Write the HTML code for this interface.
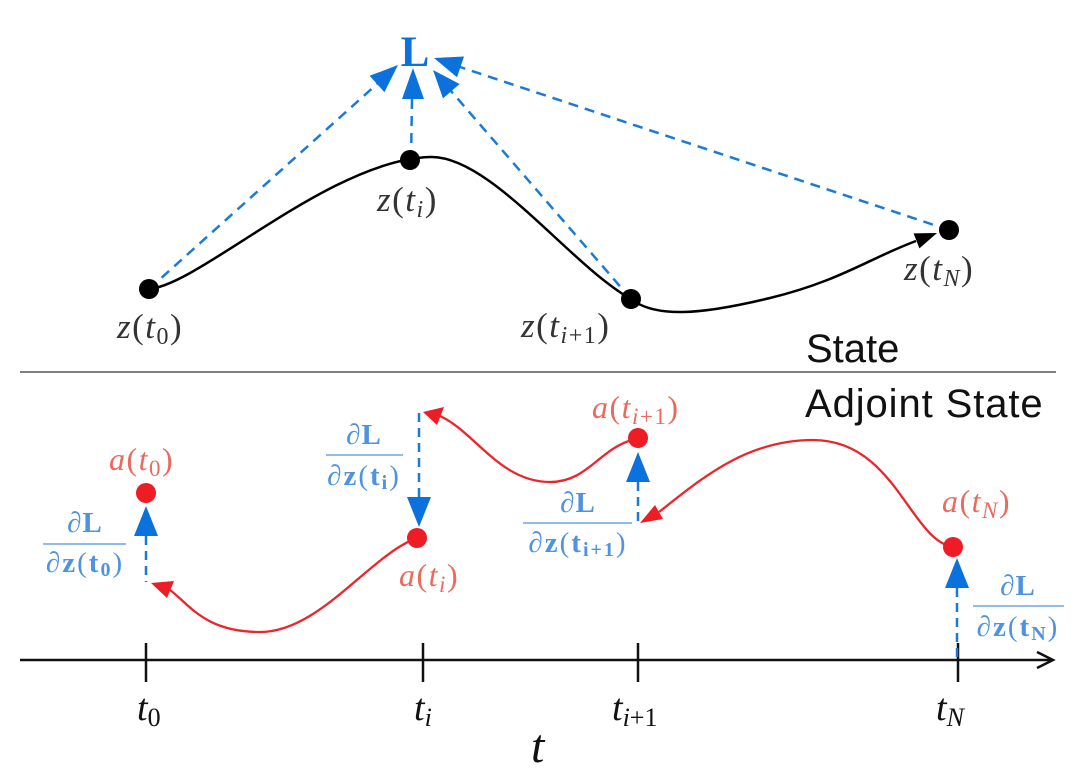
<!DOCTYPE html>
<html>
<head>
<meta charset="utf-8">
<style>
  html, body { margin:0; padding:0; background:#fff; }
  svg { display:block; }
  .m { font-family:"Liberation Serif", serif; }
  .it { font-style:italic; }
  .bf { font-weight:bold; }
  .sans { font-family:"Liberation Sans", sans-serif; }
</style>
</head>
<body>
<svg width="1080" height="780" viewBox="0 0 1080 780" xmlns="http://www.w3.org/2000/svg">
  <rect width="1080" height="780" fill="#fff"/>

  <!-- ===== TOP: State ===== -->
  <g stroke="#1a7bd6" stroke-width="2.5" stroke-dasharray="10 7" fill="none">
    <line x1="149" y1="289" x2="377" y2="84"/>
    <line x1="411" y1="160" x2="412" y2="99"/>
    <line x1="631" y1="299" x2="451" y2="91"/>
    <line x1="949" y1="230" x2="460" y2="67"/>
  </g>
  <g fill="#0b72dd">
    <polygon points="398,65 369.6,75.8 384.4,92.2"/>
    <polygon points="413,68 402,99 424,99"/>
    <polygon points="433,70 443,98.4 459.6,84"/>
    <polygon points="434,58 464,56.5 457,77.3"/>
  </g>
  <text x="415" y="66" text-anchor="middle" class="m bf" font-size="43" fill="#0b72dd">L</text>

  <!-- black trajectory -->
  <path d="M149,289 C200,285 330,160 430,157 C490,155 570,265 631,299 C655,318 700,315 770,298 S870,258 916,241"
        stroke="#000" stroke-width="2.5" fill="none"/>
  <polygon points="937,233 919.4,248.4 913.6,233.4" fill="#000"/>

  <g fill="#000">
    <circle cx="149" cy="289" r="10"/>
    <circle cx="410" cy="160" r="10"/>
    <circle cx="631" cy="299" r="10"/>
    <circle cx="949" cy="230" r="10"/>
  </g>

  <!-- z labels -->
  <g class="m" font-size="35" fill="#333">
    <text x="117" y="338" letter-spacing="1.5"><tspan class="it">z</tspan>(<tspan class="it">t</tspan><tspan font-size="24" dy="6">0</tspan><tspan dy="-6">)</tspan></text>
    <text x="377" y="211" letter-spacing="1.5"><tspan class="it">z</tspan>(<tspan class="it">t</tspan><tspan font-size="24" dy="6" class="it">i</tspan><tspan dy="-6">)</tspan></text>
    <text x="521" y="337" letter-spacing="1.5"><tspan class="it">z</tspan>(<tspan class="it">t</tspan><tspan font-size="24" dy="6"><tspan class="it">i</tspan>+1</tspan><tspan dy="-6">)</tspan></text>
    <text x="904" y="280" letter-spacing="1.5"><tspan class="it">z</tspan>(<tspan class="it">t</tspan><tspan font-size="24" dy="6" class="it">N</tspan><tspan dy="-6">)</tspan></text>
  </g>

  <text x="806" y="362" class="sans" font-size="40" fill="#111">State</text>
  <line x1="20" y1="372" x2="1056" y2="372" stroke="#808080" stroke-width="2"/>
  <text x="805" y="417" class="sans" font-size="40" fill="#111" letter-spacing="0.9">Adjoint State</text>

  <!-- ===== BOTTOM: Adjoint ===== -->
  <line x1="20" y1="660" x2="1052" y2="660" stroke="#111" stroke-width="2.5"/>
  <polyline points="1037,652 1053,660 1037,668" stroke="#111" stroke-width="2.5" fill="none"/>
  <g stroke="#111" stroke-width="2.5">
    <line x1="146" y1="643" x2="146" y2="682"/>
    <line x1="423" y1="643" x2="423" y2="682"/>
    <line x1="638" y1="643" x2="638" y2="682"/>
    <line x1="958" y1="643" x2="958" y2="682"/>
  </g>

  <!-- red curves -->
  <g stroke="#e8262b" stroke-width="2.3" fill="none">
    <path d="M417,538 C370,555 320,632 260,632 C205,632 190,605 170,590"/>
    <path d="M640,438 C600,445 590,482 550,482 C500,482 475,432 440,416"/>
    <path d="M953,547 C910,540 895,440 813,440 C745,440 700,480 659,512"/>
  </g>
  <g fill="#ee1c24">
    <polygon points="151,583 174,581 167,598"/>
    <polygon points="423,412 444,407 437,425"/>
    <polygon points="640,523 663,519 655,505"/>
  </g>

  <!-- blue dashed gradients -->
  <g stroke="#1a7bd6" stroke-width="2.5" stroke-dasharray="9 6" fill="none">
    <line x1="146" y1="536" x2="146" y2="582"/>
    <line x1="419" y1="413" x2="419" y2="497"/>
    <line x1="638" y1="482" x2="638" y2="523"/>
    <line x1="957" y1="588" x2="957" y2="660"/>
  </g>
  <g fill="#0b72dd">
    <polygon points="146,506 134,536 158,536"/>
    <polygon points="407,497 431,497 419,527"/>
    <polygon points="638,452 626,482 650,482"/>
    <polygon points="957,558 945,588 969,588"/>
  </g>

  <!-- red dots -->
  <g fill="#ee1c24">
    <circle cx="146" cy="493" r="10"/>
    <circle cx="417" cy="538" r="10"/>
    <circle cx="638" cy="438" r="10"/>
    <circle cx="953" cy="547" r="10"/>
  </g>

  <!-- a labels -->
  <g class="m" font-size="32" fill="#ea6a5e">
    <text x="109" y="470" letter-spacing="1.5"><tspan class="it">a</tspan>(<tspan class="it">t</tspan><tspan font-size="23" dy="6">0</tspan><tspan dy="-6">)</tspan></text>
    <text x="399" y="586" letter-spacing="1.5"><tspan class="it">a</tspan>(<tspan class="it">t</tspan><tspan font-size="23" dy="6" class="it">i</tspan><tspan dy="-6">)</tspan></text>
    <text x="592" y="418" letter-spacing="1.5"><tspan class="it">a</tspan>(<tspan class="it">t</tspan><tspan font-size="23" dy="6"><tspan class="it">i</tspan>+1</tspan><tspan dy="-6">)</tspan></text>
    <text x="942" y="512" letter-spacing="1.5"><tspan class="it">a</tspan>(<tspan class="it">t</tspan><tspan font-size="23" dy="6" class="it">N</tspan><tspan dy="-6">)</tspan></text>
  </g>

  <!-- fractions -->
  <g class="m" fill="#4f93e0" font-size="29" text-anchor="middle">
    <text x="85" y="532" letter-spacing="1">∂<tspan class="bf">L</tspan></text>
    <line x1="43" y1="544" x2="126" y2="544" stroke="#6aa5e6" stroke-width="1.6"/>
    <text x="85" y="572" letter-spacing="2">∂<tspan class="bf">z</tspan>(<tspan class="bf">t</tspan><tspan class="bf" font-size="20" dy="4">0</tspan><tspan dy="-4">)</tspan></text>

    <text x="364" y="444" letter-spacing="1">∂<tspan class="bf">L</tspan></text>
    <line x1="326" y1="455" x2="403" y2="455" stroke="#6aa5e6" stroke-width="1.6"/>
    <text x="364" y="485" letter-spacing="2">∂<tspan class="bf">z</tspan>(<tspan class="bf">t</tspan><tspan class="bf" font-size="20" dy="4">i</tspan><tspan dy="-4">)</tspan></text>

    <text x="578" y="512" letter-spacing="1">∂<tspan class="bf">L</tspan></text>
    <line x1="523" y1="523" x2="632" y2="523" stroke="#6aa5e6" stroke-width="1.6"/>
    <text x="578" y="552" letter-spacing="2">∂<tspan class="bf">z</tspan>(<tspan class="bf">t</tspan><tspan class="bf" font-size="20" dy="4">i+1</tspan><tspan dy="-4">)</tspan></text>

    <text x="1018" y="595" letter-spacing="1">∂<tspan class="bf">L</tspan></text>
    <line x1="973" y1="606" x2="1064" y2="606" stroke="#6aa5e6" stroke-width="1.6"/>
    <text x="1018" y="636" letter-spacing="2">∂<tspan class="bf">z</tspan>(<tspan class="bf">t</tspan><tspan class="bf" font-size="20" dy="4">N</tspan><tspan dy="-4">)</tspan></text>
  </g>

  <!-- axis labels -->
  <g class="m" font-size="38" fill="#111">
    <text x="137" y="720"><tspan class="it">t</tspan><tspan font-size="26" dy="6">0</tspan></text>
    <text x="414" y="720"><tspan class="it">t</tspan><tspan font-size="26" dy="6" class="it">i</tspan></text>
    <text x="612" y="720"><tspan class="it">t</tspan><tspan font-size="26" dy="6"><tspan class="it">i</tspan>+1</tspan></text>
    <text x="936" y="720"><tspan class="it">t</tspan><tspan font-size="26" dy="6" class="it">N</tspan></text>
  </g>
  <text x="531" y="762" class="m it" font-size="48" fill="#111">t</text>
</svg>
</body>
</html>
